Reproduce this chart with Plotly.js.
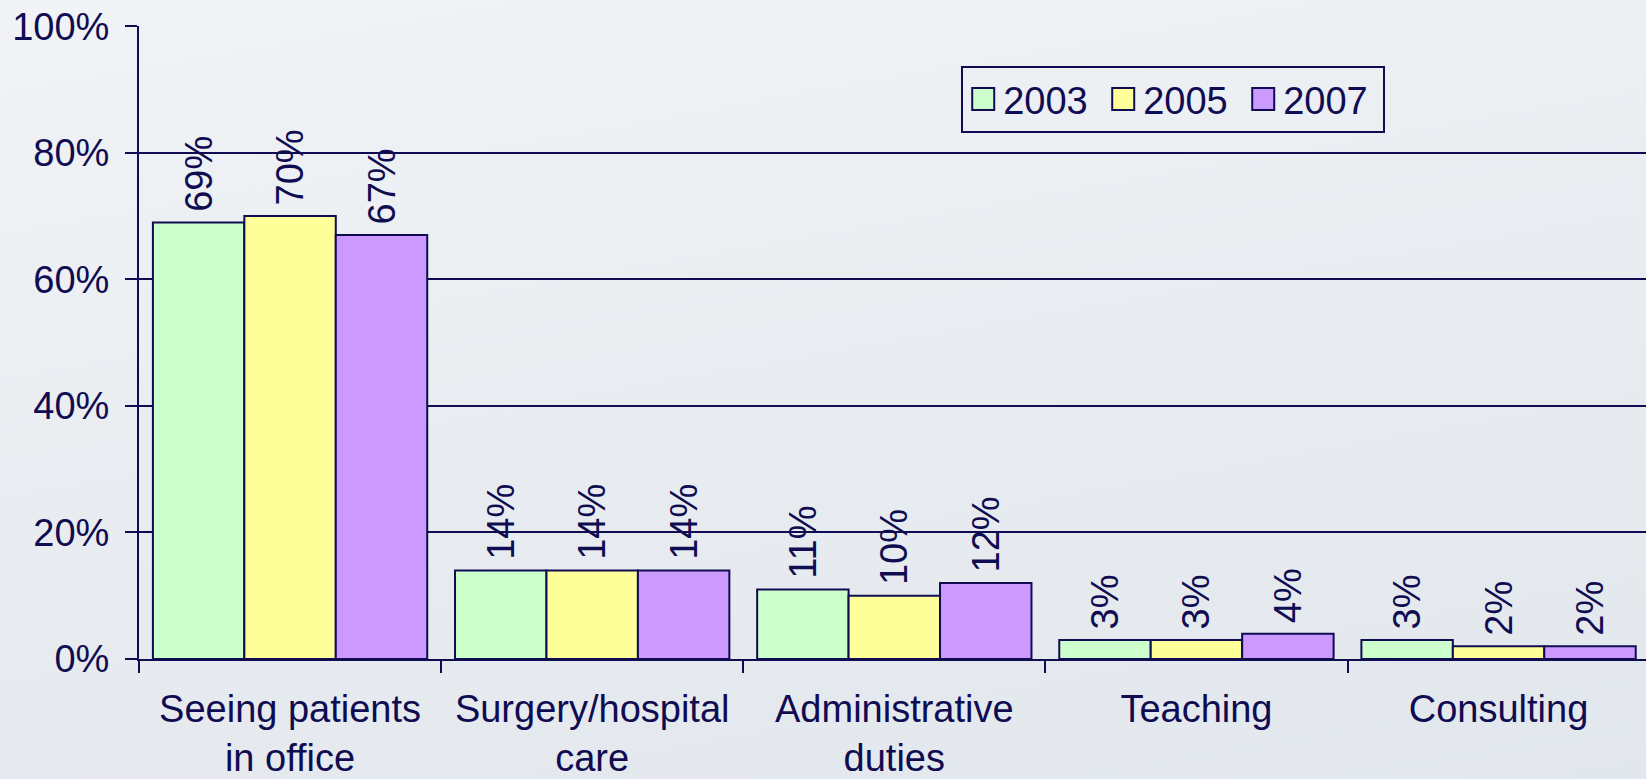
<!DOCTYPE html>
<html>
<head>
<meta charset="utf-8">
<script src="https://cdn.plot.ly/plotly-3.0.1.min.js"></script>
<style>
  html, body { margin: 0; padding: 0; width: 1646px; height: 779px; overflow: hidden; }
  body { background: linear-gradient(170deg, #f1f3f6 0%, #e9edf1 45%, #e2e7ed 100%); }
  #chart { width: 1646px; height: 779px; }
</style>
</head>
<body>
<div id="chart"></div>
<script>
const categories = ["Seeing patients<br>in office", "Surgery/hospital<br>care", "Administrative<br>duties", "Teaching", "Consulting"];
const years = ["2003", "2005", "2007"];
const values2003 = [0.69, 0.14, 0.11, 0.03, 0.03];
const values2005 = [0.70, 0.14, 0.10, 0.03, 0.02];
const values2007 = [0.67, 0.14, 0.12, 0.04, 0.02];
const yTickVals = [0, 0.2, 0.4, 0.6, 0.8, 1.0];

const NAVY = "#100c52";
const FONT = 'Arial, "Liberation Sans", sans-serif';
const FS = 38;
const colors = ["#ccffcc", "#ffff99", "#cc99ff"];
const series = [values2003, values2005, values2007];

const traces = series.map((vals, i) => ({
  type: "bar",
  name: years[i],
  x: categories,
  y: vals,
  marker: { color: colors[i], line: { color: NAVY, width: 2 } },
  texttemplate: "\u2009%{y:.0%}",
  textposition: "outside",
  textangle: -90,
  constraintext: "none",
  cliponaxis: false,
  textfont: { family: FONT, size: FS, color: NAVY },
  hoverinfo: "skip"
}));

const layout = {
  width: 1646,
  height: 779,
  margin: { l: 139, r: 0, t: 26, b: 120 },
  paper_bgcolor: "rgba(0,0,0,0)",
  plot_bgcolor: "rgba(0,0,0,0)",
  font: { family: FONT, size: FS, color: NAVY },
  barmode: "group",
  bargap: 0.092,
  bargroupgap: 0,
  showlegend: true,
  legend: {
    orientation: "h",
    x: 0.5456, xanchor: "left",
    y: 0.937, yanchor: "top",
    bgcolor: "rgba(0,0,0,0)",
    bordercolor: NAVY,
    borderwidth: 2,
    entrywidth: 95,
    font: { family: FONT, size: FS, color: NAVY },
    traceorder: "normal"
  },
  xaxis: {
    type: "category",
    range: [-0.5, 4.488],
    showline: true, linecolor: NAVY, linewidth: 2,
    ticks: "outside", tickson: "boundaries", ticklen: 12, tickwidth: 2, tickcolor: NAVY,
    ticklabelstandoff: 15,
    showgrid: false, zeroline: false,
    tickfont: { family: FONT, size: FS, color: NAVY },
    automargin: false, fixedrange: true
  },
  yaxis: {
    range: [0, 1.0005],
    tickvals: yTickVals,
    tickformat: ".0%",
    showline: true, linecolor: NAVY, linewidth: 2,
    ticks: "outside", ticklen: 12, tickwidth: 2, tickcolor: NAVY,
    ticklabelstandoff: 8,
    showgrid: true, gridcolor: NAVY, gridwidth: 2,
    zeroline: false,
    tickfont: { family: FONT, size: FS, color: NAVY },
    automargin: false, fixedrange: true
  }
};

Plotly.newPlot("chart", traces, layout, { staticPlot: true, displayModeBar: false }).then(() => {
  document.querySelectorAll("#chart .legend .legendpoints path").forEach(p => {
    p.setAttribute("d", "M11,11H-11V-11H11Z");
  });
});
</script>
</body>
</html>
